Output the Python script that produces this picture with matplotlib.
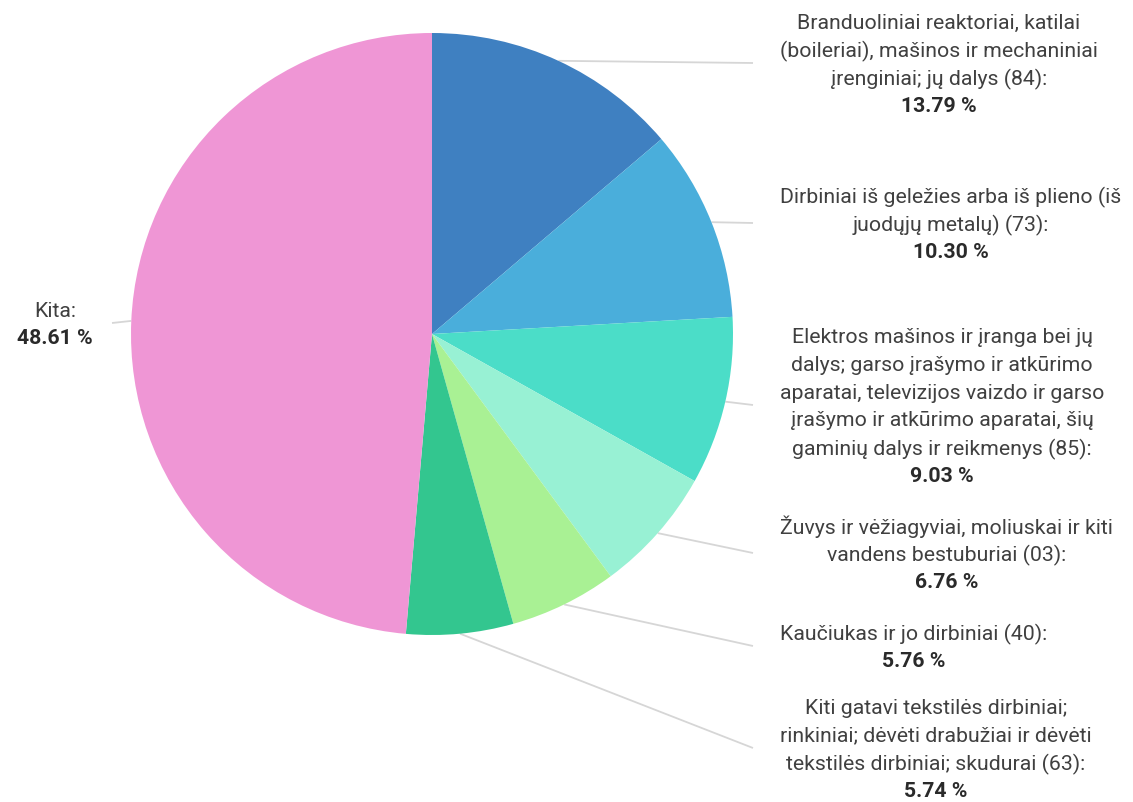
import matplotlib.pyplot as plt
import numpy as np

plt.rcParams['font.family'] = ['Roboto', 'DejaVu Sans']

names = [
    "Branduoliniai reaktoriai, katilai\n(boileriai), mašinos ir mechaniniai\nįrenginiai; jų dalys (84):",
    "Dirbiniai iš geležies arba iš plieno (iš\njuodųjų metalų) (73):",
    "Elektros mašinos ir įranga bei jų\ndalys; garso įrašymo ir atkūrimo\naparatai, televizijos vaizdo ir garso\nįrašymo ir atkūrimo aparatai, šių\ngaminių dalys ir reikmenys (85):",
    "Žuvys ir vėžiagyviai, moliuskai ir kiti\nvandens bestuburiai (03):",
    "Kaučiukas ir jo dirbiniai (40):",
    "Kiti gatavi tekstilės dirbiniai;\nrinkiniai; dėvėti drabužiai ir dėvėti\ntekstilės dirbiniai; skudurai (63):",
    "Kita:",
]
values = [13.79, 10.30, 9.03, 6.76, 5.76, 5.74, 48.61]
colors = ["#3f80c1", "#4aaedb", "#4bddc8", "#98f1d4", "#a9f194", "#33c68f", "#ef96d5"]

# pixel rows where leader lines end / label blocks are centred
label_y = [63, 223, 405, 553, 646, 748, 323]

W, H = 1133, 802
fig = plt.figure(figsize=(W / 100, H / 100), dpi=100)
ax = fig.add_axes([0, 0, 1, 1])

wedges, _ = ax.pie(values, colors=colors, startangle=90, counterclock=False,
                   center=(432, H - 334), radius=301,
                   wedgeprops=dict(linewidth=0))
ax.set_xlim(0, W)
ax.set_ylim(0, H)
ax.set_aspect('equal')
ax.axis('off')

L = 27.8
fs = 15.3
txt_col = "#404040"
renderer = fig.canvas.get_renderer()

for i, w in enumerate(wedges):
    ang = np.deg2rad((w.theta1 + w.theta2) / 2)
    cx, cy = w.center
    ex, ey = cx + w.r * np.cos(ang), cy + w.r * np.sin(ang)
    ymid = H - label_y[i]
    right = ex > cx
    lx = 753 if right else 112
    ax.plot([ex, lx], [ey, ymid], color="#d6d6d6", lw=1.3, zorder=0,
            solid_capstyle='butt')

    lines = names[i].split("\n") + [f"{values[i]:.2f} %"]
    n = len(lines)
    texts = []
    for k, s in enumerate(lines):
        bold = k == n - 1
        t = ax.text(0, ymid + ((n - 1) / 2 - k) * L, s, ha='center',
                    va='center_baseline', fontsize=fs,
                    fontweight='bold' if bold else 'normal',
                    color="#2a2a2a" if bold else txt_col)
        texts.append(t)
    wmax = max(t.get_window_extent(renderer).width for t in texts)
    bx = 780 + wmax / 2 if right else 93 - wmax / 2
    for t in texts:
        t.set_x(bx)

fig.savefig("out.png", dpi=100)
